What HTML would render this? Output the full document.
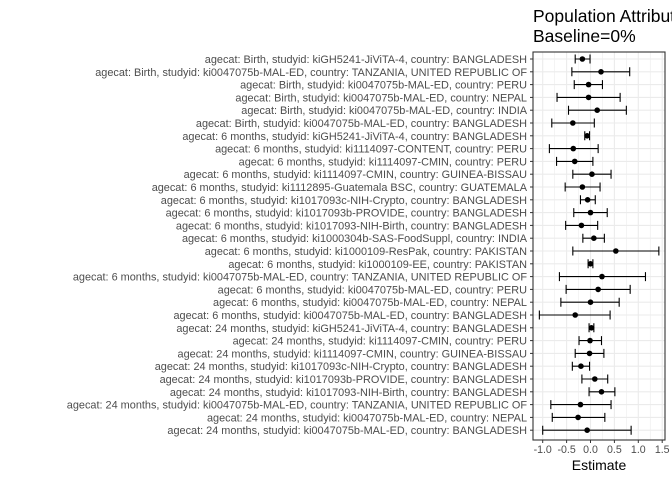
<!DOCTYPE html>
<html><head><meta charset="utf-8"><style>
body{margin:0;background:#fff;}
svg{font-family:"Liberation Sans",Arial,sans-serif;}
</style></head><body>
<svg id="chart" width="672" height="480">
<text x="533" y="22" font-size="17.5" fill="#000">Population Attributable</text>
<text x="533" y="42" font-size="17.5" fill="#000">Baseline=0%</text>
<g id="grid"></g><g id="marks"></g><g id="axes"></g>
<text x="599" y="470" font-size="14" text-anchor="middle" fill="#000">Estimate</text>
</svg>
<script>
const labels=[
"agecat: Birth, studyid: kiGH5241-JiViTA-4, country: BANGLADESH",
"agecat: Birth, studyid: ki0047075b-MAL-ED, country: TANZANIA, UNITED REPUBLIC OF",
"agecat: Birth, studyid: ki0047075b-MAL-ED, country: PERU",
"agecat: Birth, studyid: ki0047075b-MAL-ED, country: NEPAL",
"agecat: Birth, studyid: ki0047075b-MAL-ED, country: INDIA",
"agecat: Birth, studyid: ki0047075b-MAL-ED, country: BANGLADESH",
"agecat: 6 months, studyid: kiGH5241-JiViTA-4, country: BANGLADESH",
"agecat: 6 months, studyid: ki1114097-CONTENT, country: PERU",
"agecat: 6 months, studyid: ki1114097-CMIN, country: PERU",
"agecat: 6 months, studyid: ki1114097-CMIN, country: GUINEA-BISSAU",
"agecat: 6 months, studyid: ki1112895-Guatemala BSC, country: GUATEMALA",
"agecat: 6 months, studyid: ki1017093c-NIH-Crypto, country: BANGLADESH",
"agecat: 6 months, studyid: ki1017093b-PROVIDE, country: BANGLADESH",
"agecat: 6 months, studyid: ki1017093-NIH-Birth, country: BANGLADESH",
"agecat: 6 months, studyid: ki1000304b-SAS-FoodSuppl, country: INDIA",
"agecat: 6 months, studyid: ki1000109-ResPak, country: PAKISTAN",
"agecat: 6 months, studyid: ki1000109-EE, country: PAKISTAN",
"agecat: 6 months, studyid: ki0047075b-MAL-ED, country: TANZANIA, UNITED REPUBLIC OF",
"agecat: 6 months, studyid: ki0047075b-MAL-ED, country: PERU",
"agecat: 6 months, studyid: ki0047075b-MAL-ED, country: NEPAL",
"agecat: 6 months, studyid: ki0047075b-MAL-ED, country: BANGLADESH",
"agecat: 24 months, studyid: kiGH5241-JiViTA-4, country: BANGLADESH",
"agecat: 24 months, studyid: ki1114097-CMIN, country: PERU",
"agecat: 24 months, studyid: ki1114097-CMIN, country: GUINEA-BISSAU",
"agecat: 24 months, studyid: ki1017093c-NIH-Crypto, country: BANGLADESH",
"agecat: 24 months, studyid: ki1017093b-PROVIDE, country: BANGLADESH",
"agecat: 24 months, studyid: ki1017093-NIH-Birth, country: BANGLADESH",
"agecat: 24 months, studyid: ki0047075b-MAL-ED, country: TANZANIA, UNITED REPUBLIC OF",
"agecat: 24 months, studyid: ki0047075b-MAL-ED, country: NEPAL",
"agecat: 24 months, studyid: ki0047075b-MAL-ED, country: BANGLADESH"];
const est=[-0.17,0.22,-0.04,-0.04,0.14,-0.37,-0.07,-0.36,-0.33,0.03,-0.17,-0.06,0.00,-0.19,0.07,0.53,0.00,0.24,0.16,0.00,-0.32,0.02,-0.01,-0.02,-0.20,0.09,0.23,-0.21,-0.26,-0.07];
const lo=[-0.32,-0.39,-0.34,-0.70,-0.46,-0.81,-0.12,-0.86,-0.71,-0.37,-0.53,-0.21,-0.35,-0.52,-0.16,-0.37,-0.05,-0.65,-0.51,-0.62,-1.07,-0.03,-0.24,-0.32,-0.38,-0.18,-0.03,-0.83,-0.80,-1.00];
const hi=[-0.01,0.82,0.25,0.62,0.75,0.08,-0.02,0.16,0.05,0.43,0.20,0.10,0.35,0.15,0.29,1.43,0.05,1.15,0.83,0.60,0.41,0.07,0.23,0.28,-0.02,0.36,0.51,0.43,0.30,0.85];
const ticks=[-1.0,-0.5,0.0,0.5,1.0,1.5];
const tickLabels=["-1.0","-0.5","0.0","0.5","1.0","1.5"];
const NS="http://www.w3.org/2000/svg";
const L=533,R=665,T=52,B=440;
const xs=v=>590.5+v*47.8;
const ys=i=>59+i*12.8;
function mk(tag,at,parent){const e=document.createElementNS(NS,tag);for(const k in at)e.setAttribute(k,at[k]);parent.appendChild(e);return e;}
const g=document.getElementById('grid'),m=document.getElementById('marks'),a=document.getElementById('axes');
const bg=mk('rect',{x:L,y:T,width:R-L,height:B-T,fill:'#fff'},g);


for(let v=-1.25;v<=1.5;v+=0.25){const x=xs(v);if(x<L||x>R)continue;const major=Math.abs(v*2-Math.round(v*2))<1e-6;
const ln=mk('line',{x1:x,x2:x,y1:T,y2:B,stroke:'#ebebeb','stroke-width':major?1.1:0.55},g);

}
labels.forEach((lab,i)=>{const y=ys(i);
const gl=mk('line',{x1:L,x2:R,y1:y,y2:y,stroke:'#ebebeb','stroke-width':1.1},g);


const t=mk('text',{x:527,y:y+4,'font-size':'10.9','text-anchor':'end',fill:'#4d4d4d'},a);t.textContent=lab;


const tk=mk('line',{x1:530,x2:L,y1:y,y2:y,stroke:'#333','stroke-width':1},a);


const e=mk('path',{d:`M${xs(lo[i])},${y}H${xs(hi[i])}M${xs(lo[i])},${y-4.5}V${y+4.5}M${xs(hi[i])},${y-4.5}V${y+4.5}`,stroke:'#000','stroke-width':1.1,fill:'none'},m);


const c=mk('circle',{cx:xs(est[i]),cy:y,r:2.8,fill:'#000'},m);

});
const bd=mk('rect',{x:L,y:T,width:R-L,height:B-T,fill:'none',stroke:'#333','stroke-width':1.1},a);


ticks.forEach((v,i)=>{const x=xs(v);
const tk=mk('line',{x1:x,x2:x,y1:B,y2:B+3,stroke:'#333'},a);


const t=mk('text',{x:x,y:B+13,'font-size':'10.6','text-anchor':'middle',fill:'#4d4d4d'},a);t.textContent=tickLabels[i];

});
</script>
</body></html>
